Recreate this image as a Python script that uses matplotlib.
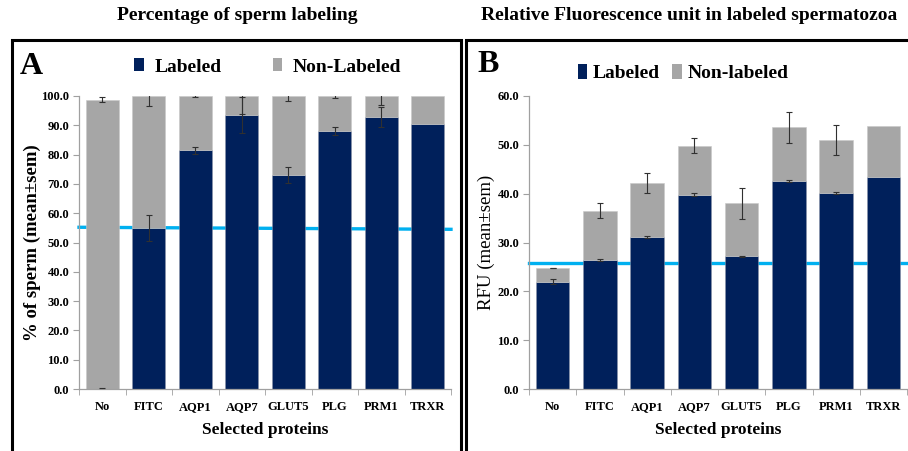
import matplotlib
matplotlib.use("Agg")
import matplotlib.pyplot as plt
from matplotlib.patches import Rectangle, Patch
import numpy as np

categories = ['No', 'FITC', 'AQP1', 'AQP7', 'GLUT5', 'PLG', 'PRM1', 'TRXR']

# Panel A: % of sperm
pct_labeled = [0.0, 55.0, 81.5, 93.5, 73.0, 88.0, 92.8, 90.5]
pct_total = [98.8, 100.0, 100.0, 100.0, 100.0, 100.0, 100.0, 100.0]
pct_labeled_err = [0.5, 4.5, 1.2, 6.0, 2.8, 1.4, 3.5, 0.0]
pct_total_err = [0.7, 3.5, 0.4, 6.0, 1.8, 0.8, 3.2, 0.0]
pct_ref_line = [55.2, 54.5]

# Panel B: RFU
rfu_labeled = [22.0, 26.4, 31.1, 39.8, 27.2, 42.5, 40.1, 43.4]
rfu_total = [24.8, 36.5, 42.2, 49.8, 38.0, 53.6, 51.0, 53.8]
rfu_labeled_err = [0.5, 0.15, 0.15, 0.3, 0.1, 0.2, 0.15, 0.0]
rfu_total_err = [0.05, 1.5, 2.0, 1.5, 3.2, 3.2, 3.0, 0.0]
rfu_ref_line = [25.8, 25.8]

NAVY = '#00205B'
GREY = '#A6A6A6'
CYAN = '#00B0F0'
SERIF = ['Liberation Serif', 'DejaVu Serif']

W, H = 908, 451
fig = plt.figure(figsize=(W / 100, H / 100), dpi=100)
plt.rcParams['font.family'] = SERIF


def fx(px):
    return px / W


def fy(py):
    return 1 - py / H


def panel(ax, lab, tot, lab_err, tot_err, ymax, step, ref):
    x = np.arange(len(categories))
    lab = np.array(lab)
    tot = np.array(tot)
    nonlab = tot - lab
    ax.plot([-0.5, 7.5], ref, color=CYAN, lw=2.4, zorder=1, clip_on=False)
    ax.bar(x, lab, width=0.71, color=NAVY, edgecolor='#8a93aa', linewidth=0.4, zorder=2)
    ax.bar(x, nonlab, bottom=lab, width=0.71, color=GREY, edgecolor='#c8c8c8', linewidth=0.4, zorder=2)
    le = np.array(lab_err)
    te = np.array(tot_err)
    m = le > 0
    ax.errorbar(x[m], lab[m], yerr=le[m], fmt='none', ecolor='#303030', elinewidth=0.8,
                capsize=2, capthick=0.8, zorder=3)
    m = te > 0
    ax.errorbar(x[m], tot[m], yerr=te[m], fmt='none', ecolor='#303030', elinewidth=0.8,
                capsize=2, capthick=0.8, zorder=3)
    ax.set_xlim(-0.5, 7.5)
    ax.set_ylim(0, ymax)
    ticks = np.arange(0, ymax + 0.01, step)
    ax.set_yticks(ticks)
    ax.set_yticklabels(['%.1f' % v for v in ticks], fontsize=9, fontweight='bold')
    ax.set_xticks(x)
    ax.set_xticklabels(categories, fontsize=9, fontweight='bold')
    ax.set_xticks(np.arange(-0.5, 7.6, 1), minor=True)
    ax.tick_params(axis='x', which='major', length=0, pad=9)
    ax.tick_params(axis='x', which='minor', length=4, color='#A0A0A0', direction='out')
    ax.tick_params(axis='y', length=4, color='#A0A0A0', direction='out', pad=3)
    for s in ['top', 'right']:
        ax.spines[s].set_visible(False)
    for s in ['left', 'bottom']:
        ax.spines[s].set_color('#A0A0A0')
        ax.spines[s].set_linewidth(0.9)
    ax.set_xlabel('Selected proteins', fontsize=12.5, fontweight='bold', labelpad=6)


axA = fig.add_axes([fx(79), fy(389), fx(451 - 79), (389 - 96) / H])
panel(axA, pct_labeled, pct_total, pct_labeled_err, pct_total_err, 100, 10, pct_ref_line)
axA.set_ylabel('% of sperm (mean±sem)', fontsize=13.5, fontweight='bold', labelpad=0)

axB = fig.add_axes([fx(529), fy(389), fx(907 - 529), (389 - 96) / H])
panel(axB, rfu_labeled, rfu_total, rfu_labeled_err, rfu_total_err, 60, 10, rfu_ref_line)
axB.set_ylabel('RFU (mean±sem)', fontsize=13.5, labelpad=2)

# Panel frames
fig.add_artist(Rectangle((fx(12), fy(470)), fx(461 - 12), (470 - 40) / H, transform=fig.transFigure,
                         fill=False, edgecolor='black', lw=2.2, clip_on=False))
fig.add_artist(Rectangle((fx(466), fy(470)), fx(930 - 466), (470 - 40) / H, transform=fig.transFigure,
                         fill=False, edgecolor='black', lw=2.2, clip_on=False))

# Titles
fig.text(fx(237), fy(16), 'Percentage of sperm labeling', ha='center', va='center',
         fontsize=14, fontweight='bold')
fig.text(fx(689), fy(16), 'Relative Fluorescence unit in labeled spermatozoa', ha='center',
         va='center', fontsize=14, fontweight='bold')

# Panel letters
fig.text(fx(20), fy(66), 'A', ha='left', va='center', fontsize=23, fontweight='bold')
fig.text(fx(477), fy(64), 'B', ha='left', va='center', fontsize=23, fontweight='bold')

# Legends
hA = [Patch(facecolor=NAVY, label='Labeled'), Patch(facecolor=GREY, label='Non-Labeled')]
fig.legend(handles=hA, loc='center', bbox_to_anchor=(fx(268), fy(67)), ncol=2, frameon=False,
           prop={'family': SERIF, 'weight': 'bold', 'size': 14}, handlelength=0.5,
           handleheight=0.65, handletextpad=0.55, columnspacing=2.6)
hB = [Patch(facecolor=NAVY, label='Labeled'), Patch(facecolor=GREY, label='Non-labeled')]
fig.legend(handles=hB, loc='center', bbox_to_anchor=(fx(683), fy(73)), ncol=2, frameon=False,
           prop={'family': SERIF, 'weight': 'bold', 'size': 14}, handlelength=0.5,
           handleheight=0.8, handletextpad=0.3, columnspacing=0.6)

fig.savefig('out.png', dpi=100)
